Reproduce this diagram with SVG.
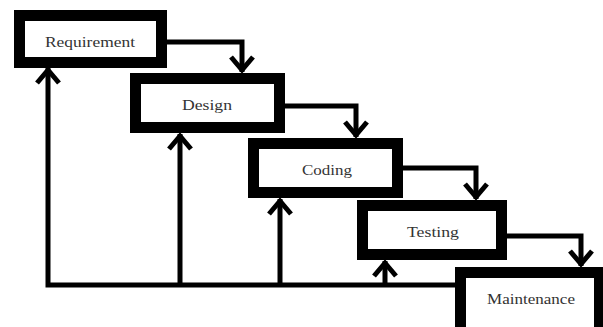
<svg xmlns="http://www.w3.org/2000/svg" width="603" height="327" viewBox="0 0 603 327">
<style>
.box{fill:#fff;stroke:#000;stroke-width:11}
.lbl{font-family:"Liberation Serif","DejaVu Serif",serif;font-size:15px;fill:#333;text-anchor:middle}
.con{fill:none;stroke:#000;stroke-width:5;stroke-linejoin:miter}
</style>
<defs>
<marker id="chev" markerUnits="userSpaceOnUse" markerWidth="34" markerHeight="34" viewBox="-20 -17 34 34" refX="2" refY="0" orient="auto">
<path d="M-13,-11 L0,0 L-13,11" fill="none" stroke="#000" stroke-width="5"/>
</marker>
</defs>
<rect width="603" height="327" fill="#fff"/>
<g id="connectors">
<path class="con" d="M167,42 H242 V72" marker-end="url(#chev)"/>
<path class="con" d="M285,106 H356 V137" marker-end="url(#chev)"/>
<path class="con" d="M403,168 H476 V199" marker-end="url(#chev)"/>
<path class="con" d="M507,236 H581 V266" marker-end="url(#chev)"/>
<path class="con" d="M456,285 H48 V68" marker-end="url(#chev)"/>
<path class="con" d="M180,285 V134" marker-end="url(#chev)"/>
<path class="con" d="M280,285 V199" marker-end="url(#chev)"/>
<path class="con" d="M385,285 V261" marker-end="url(#chev)"/>
</g>
<g id="requirement">
<rect class="box" x="19.5" y="15.5" width="142" height="47"/>
<text class="lbl" x="90" y="47" textLength="90" lengthAdjust="spacingAndGlyphs">Requirement</text>
</g>
<g id="design">
<rect class="box" x="135.5" y="78.5" width="144" height="49"/>
<text class="lbl" x="207" y="110" textLength="50" lengthAdjust="spacingAndGlyphs">Design</text>
</g>
<g id="coding">
<rect class="box" x="253.5" y="143.5" width="144" height="49"/>
<text class="lbl" x="327" y="175" textLength="50" lengthAdjust="spacingAndGlyphs">Coding</text>
</g>
<g id="testing">
<rect class="box" x="362.5" y="205.5" width="139" height="49"/>
<text class="lbl" x="433" y="237" textLength="52" lengthAdjust="spacingAndGlyphs">Testing</text>
</g>
<g id="maintenance">
<rect class="box" x="460.5" y="272.5" width="139" height="60"/>
<text class="lbl" x="531" y="304" textLength="88" lengthAdjust="spacingAndGlyphs">Maintenance</text>
</g>
</svg>
